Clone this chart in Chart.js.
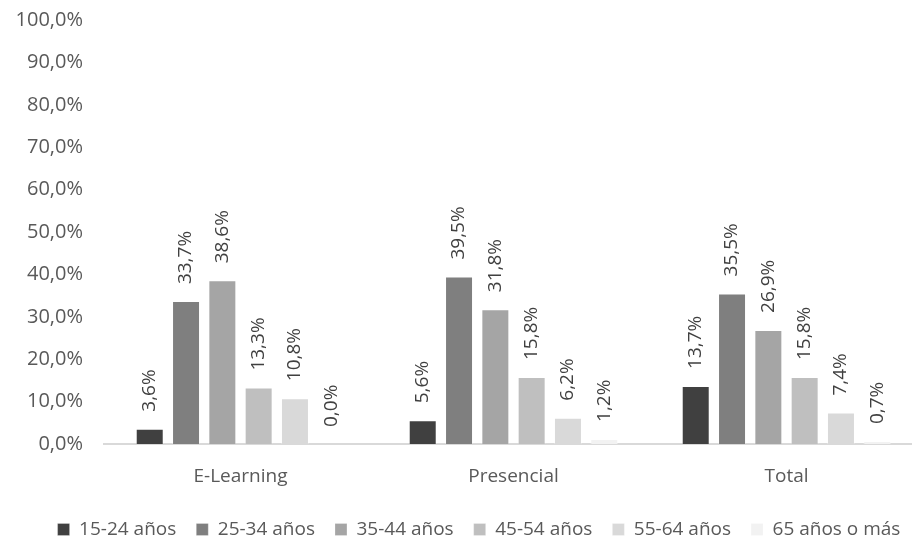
<!DOCTYPE html>
<html lang="es">
<head>
  <meta charset="UTF-8" />
  <title>Edad por modalidad</title>
  <script src="https://cdn.jsdelivr.net/npm/chart.js"></script>
  <style>
    html, body { margin: 0; padding: 0; background: #fff; overflow: hidden; }
    #wrap { width: 958px; height: 549px; }
  </style>
</head>
<body>
  <div id="wrap"><canvas id="chart"></canvas></div>
  <script>
    const categories = ['E-Learning', 'Presencial', 'Total'];
    const ageGroups = ['15-24 años', '25-34 años', '35-44 años', '45-54 años', '55-64 años', '65 años o más'];
    const age15_24 = [3.6, 5.6, 13.7];
    const age25_34 = [33.7, 39.5, 35.5];
    const age35_44 = [38.6, 31.8, 26.9];
    const age45_54 = [13.3, 15.8, 15.8];
    const age55_64 = [10.8, 6.2, 7.4];
    const age65plus = [0.0, 1.2, 0.7];
    const yTicks = [0, 10, 20, 30, 40, 50, 60, 70, 80, 90, 100];

    const seriesValues = [age15_24, age25_34, age35_44, age45_54, age55_64, age65plus];
    const colors = ['#404040', '#7f7f7f', '#a5a5a5', '#bfbfbf', '#d9d9d9', '#f2f2f2'];
    const fontFamily = "'Open Sans', sans-serif";
    const fontSize = 19;

    const fmt = v => v.toFixed(1).replace('.', ',') + '%';

    // rotated value labels above each bar
    const barLabels = {
      id: 'barLabels',
      afterLayout(chart) {
        // let the y tick labels use the left margin too (not clipped)
        chart.scales.y.left = 0;
      },
      afterDatasetsDraw(chart) {
        const ctx = chart.ctx;
        ctx.save();
        ctx.font = fontSize + 'px ' + fontFamily;
        ctx.fillStyle = '#404040';
        ctx.textAlign = 'left';
        ctx.textBaseline = 'middle';
        chart.data.datasets.forEach((ds, i) => {
          chart.getDatasetMeta(i).data.forEach((bar, j) => {
            ctx.save();
            ctx.translate(bar.x, bar.y - 17);
            ctx.rotate(-Math.PI / 2);
            ctx.fillText(fmt(ds.data[j]), 0, 0);
            ctx.restore();
          });
        });
        ctx.restore();
      }
    };

    new Chart(document.getElementById('chart'), {
      type: 'bar',
      data: {
        labels: categories,
        datasets: ageGroups.map((name, i) => ({
          label: name,
          data: seriesValues[i],
          backgroundColor: colors[i],
          borderColor: 'rgba(255,255,255,0.25)',
          borderWidth: 1,
          categoryPercentage: 0.798,
          barPercentage: 0.771
        }))
      },
      options: {
        responsive: true,
        maintainAspectRatio: false,
        animation: false,
        layout: { padding: { left: 35, right: 35, top: 20, bottom: 0 } },
        plugins: {
          tooltip: { enabled: false },
          legend: {
            position: 'bottom',
            labels: {
              color: '#595959',
              font: { family: fontFamily, size: fontSize },
              boxWidth: 12,
              boxHeight: 12,
              padding: 20
            }
          }
        },
        scales: {
          x: {
            grid: { display: false },
            border: { color: '#d9d9d9', width: 2 },
            ticks: { color: '#595959', font: { family: fontFamily, size: fontSize }, padding: 13 },
            afterFit: axis => { axis.height = 56; }
          },
          y: {
            min: 0,
            max: 100,
            afterBuildTicks: axis => { axis.ticks = yTicks.map(v => ({ value: v })); },
            grid: { display: false },
            border: { display: false },
            ticks: {
              color: '#595959',
              font: { family: fontFamily, size: 20 },
              padding: 13,
              callback: v => fmt(v)
            },
            afterFit: axis => {
              axis.width = 69;
              axis.paddingTop = 0;
              axis.paddingBottom = 0;
            }
          }
        }
      },
      plugins: [barLabels]
    });
  </script>
</body>
</html>
